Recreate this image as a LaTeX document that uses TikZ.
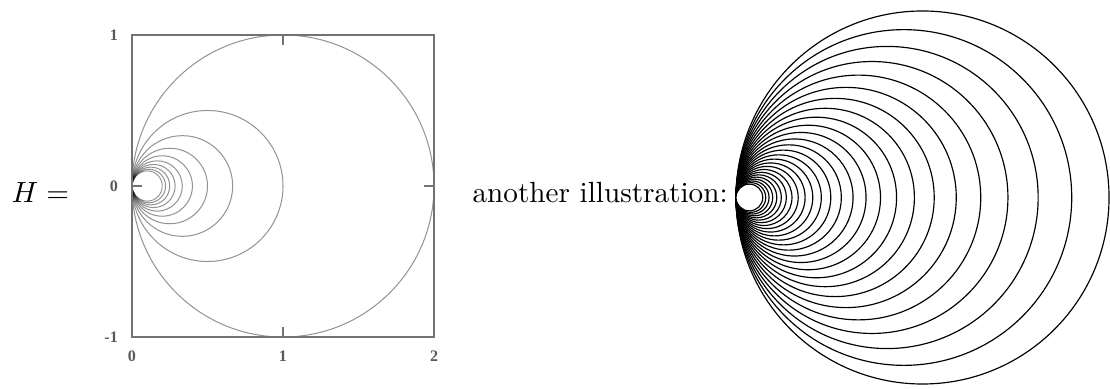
\documentclass[tikz,border=0pt]{standalone}
\usepackage{fontspec}
\usepackage{tikz}
\newfontfamily\plotfont{Liberation Serif}
\tikzset{
    contour/.style={draw=black, draw opacity=0.42, line width=0.35pt},
    frame/.style={draw=black!55, line width=0.4pt},
    ticklabel/.style={inner sep=0pt, text=black!65, font={\plotfont\bfseries\fontsize{5.5pt}{6pt}\selectfont}},
    ring/.style={draw=black, line width=0.4pt},
}
\begin{document}
\begin{tikzpicture}[x=0.3425pt, y=-0.3425pt]
\useasboundingbox (0,0) rectangle (1110,389);

% Labels
\node[anchor=base west, inner sep=0pt] (hlabel) at (11,203) {$H =$};
\node[anchor=base west, inner sep=0pt] (other) at (472,203) {another illustration:};

% Plot of the level curves
\begin{scope}[shift={(132,186)}, x=51.72pt, y=51.72pt]
\foreach \n in {1,...,80}
    \draw[contour] ({1/\n},0) circle ({1/\n});
\fill[white] (0.1,0) circle (0.095);
\draw[frame] (0,-1) rectangle (2,1);
\draw[frame] (1,1) -- (1,0.934);
\draw[frame] (1,-1) -- (1,-0.934);
\draw[frame] (0,0) -- (0.066,0);
\draw[frame] (2,0) -- (1.934,0);
\node[ticklabel, anchor=east] (ytop) at (-0.09,1) {1};
\node[ticklabel, anchor=east] (ymid) at (-0.09,0) {0};
\node[ticklabel, anchor=east] (ybot) at (-0.09,-1) {-1};
\node[ticklabel] (xleft) at (0,-1.13) {0};
\node[ticklabel] (xmid) at (1,-1.13) {1};
\node[ticklabel] (xright) at (2,-1.13) {2};
\end{scope}

% Nested circles
\begin{scope}[shift={(736,197.5)}, x=63.88pt, y=63.88pt]
\foreach \k in {0,...,24} {
    \pgfmathsetmacro{\r}{0.9^\k}
    \draw[ring] (\r,0) circle (\r);
}
\pgfmathsetmacro{\rlast}{0.9^25}
\filldraw[ring, fill=white] (\rlast,0) circle (\rlast);
\end{scope}
\end{tikzpicture}
\end{document}
